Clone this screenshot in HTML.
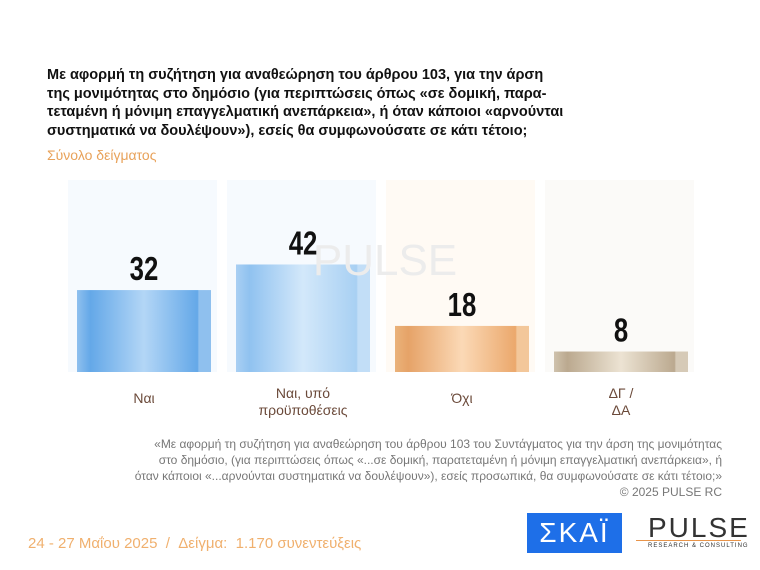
<!DOCTYPE html>
<html><head><meta charset="utf-8">
<style>
body{margin:0;width:760px;height:570px;background:#fff;font-family:"Liberation Sans","Noto Sans CJK SC",sans-serif;position:relative;overflow:hidden}
.t{position:absolute;left:47px;top:66px;font-size:14.5px;font-weight:bold;line-height:18.5px;color:#111;white-space:nowrap}
.sub{position:absolute;left:47px;top:147px;font-size:14px;color:#e8a25a}
.note{position:absolute;right:38px;top:436px;text-align:right;font-size:12px;line-height:16px;color:#777}
.date{position:absolute;left:28px;top:535px;font-size:15px;color:#f0b06e}
</style></head><body>
<div class="t">Με αφορμή τη συζήτηση για αναθεώρηση του άρθρου 103, για την άρση<br>της μονιμότητας στο δημόσιο (για περιπτώσεις όπως «σε δομική, παρα-<br>τεταμένη ή μόνιμη επαγγελματική ανεπάρκεια», ή όταν κάποιοι «αρνούνται<br>συστηματικά να δουλέψουν»), εσείς θα συμφωνούσατε σε κάτι τέτοιο;</div>
<div class="sub">Σύνολο δείγματος</div>
<svg id="c" width="760" height="570" style="position:absolute;left:0;top:0">
<defs>
<linearGradient id="g0" x1="0" x2="1"><stop offset="0" stop-color="#8fc0ee"/><stop offset="0.1" stop-color="#64a8e8"/><stop offset="0.5" stop-color="#b3d6f6"/><stop offset="0.9" stop-color="#64a8e8"/><stop offset="0.91" stop-color="#8fc0ee"/></linearGradient>
<linearGradient id="g1" x1="0" x2="1"><stop offset="0" stop-color="#a9cff3"/><stop offset="0.1" stop-color="#90c2f0"/><stop offset="0.5" stop-color="#d3e8fa"/><stop offset="0.9" stop-color="#a8d0f3"/><stop offset="0.91" stop-color="#c2def7"/></linearGradient>
<linearGradient id="g2" x1="0" x2="1"><stop offset="0" stop-color="#eab27a"/><stop offset="0.1" stop-color="#e6a368"/><stop offset="0.5" stop-color="#fbd9b6"/><stop offset="0.9" stop-color="#eba86c"/><stop offset="0.91" stop-color="#f3c79a"/></linearGradient>
<linearGradient id="g3" x1="0" x2="1"><stop offset="0" stop-color="#cfc2ad"/><stop offset="0.1" stop-color="#bba98f"/><stop offset="0.5" stop-color="#ece3d3"/><stop offset="0.9" stop-color="#bba98f"/><stop offset="0.91" stop-color="#d6cab7"/></linearGradient>
</defs>
<g id="bars"></g>
<text x="385" y="275" font-size="44" fill="#ececec" text-anchor="middle" font-family="Liberation Sans">PULSE</text>
<g id="labels"></g>
</svg>
<div class="note">«Με αφορμή τη συζήτηση για αναθεώρηση του άρθρου 103 του Συντάγματος για την άρση της μονιμότητας<br>στο δημόσιο, (για περιπτώσεις όπως «...σε δομική, παρατεταμένη ή μόνιμη επαγγελματική ανεπάρκεια», ή<br>όταν κάποιοι «...αρνούνται συστηματικά να δουλέψουν»), εσείς προσωπικά, θα συμφωνούσατε σε κάτι τέτοιο;»<br>© 2025 PULSE RC</div>
<div class="date">24 - 27 Μαΐου 2025 &nbsp;/ &nbsp;Δείγμα: &nbsp;1.170 συνεντεύξεις</div>
<div style="position:absolute;left:527px;top:513px;width:95px;height:40px;background:#1e6fe8;color:#fff;font-size:28px;text-align:center;line-height:40px;letter-spacing:2px">ΣΚΑΪ</div>
<div style="position:absolute;left:648px;top:512px;color:#333;font-size:28px;letter-spacing:2px">PULSE</div>
<div style="position:absolute;left:648px;top:543px;font-size:6px;color:#333;letter-spacing:1px">RESEARCH &amp; CONSULTING</div>
<div style="position:absolute;left:636px;top:540px;width:105px;height:1px;background:#e8944a"></div>
<script>
const categories=["Ναι","Ναι, υπό|προϋποθέσεις","Όχι","ΔΓ /|ΔΑ"];
const values=[32,42,18,8];
const bgColors=["#f6fafe","#f6fafe","#fffaf4","#fbfaf8"];
const ns="http://www.w3.org/2000/svg";
const base=372,scale=2.56,x0=68,step=159,panelW=149;
const y=v=>base-v*scale;
const bars=document.getElementById('bars'),labs=document.getElementById('labels');
function mk(tag,attrs,parent){const e=document.createElementNS(ns,tag);for(const k in attrs)e.setAttribute(k,attrs[k]);parent.appendChild(e);return e;}
values.forEach((v,i)=>{
 const px=x0+i*step;
 const bg=mk('rect',{x:px,y:180,width:panelW,height:192,fill:bgColors[i]},bars);
 
 
 const r=mk('rect',{x:px+9,y:y(v),width:134,height:v*scale,fill:'url(#g'+i+')'},bars);
 
 
 const cx=px+76;
 const t=mk('text',{x:cx/0.78,y:y(v)-10,'text-anchor':'middle','font-size':33,'font-weight':'bold',fill:'#111',transform:'scale(0.78,1)'},labs);
 t.textContent=v;
 
 
 const lines=categories[i].split('|');
 lines.forEach((ln,j)=>{
  const c=mk('text',{x:cx,y:(lines.length>1?398:403)+j*17,'text-anchor':'middle','font-size':14,fill:'#6b4a3a'},labs);
  c.textContent=ln;
  
  
 });
});
</script>
</body></html>
